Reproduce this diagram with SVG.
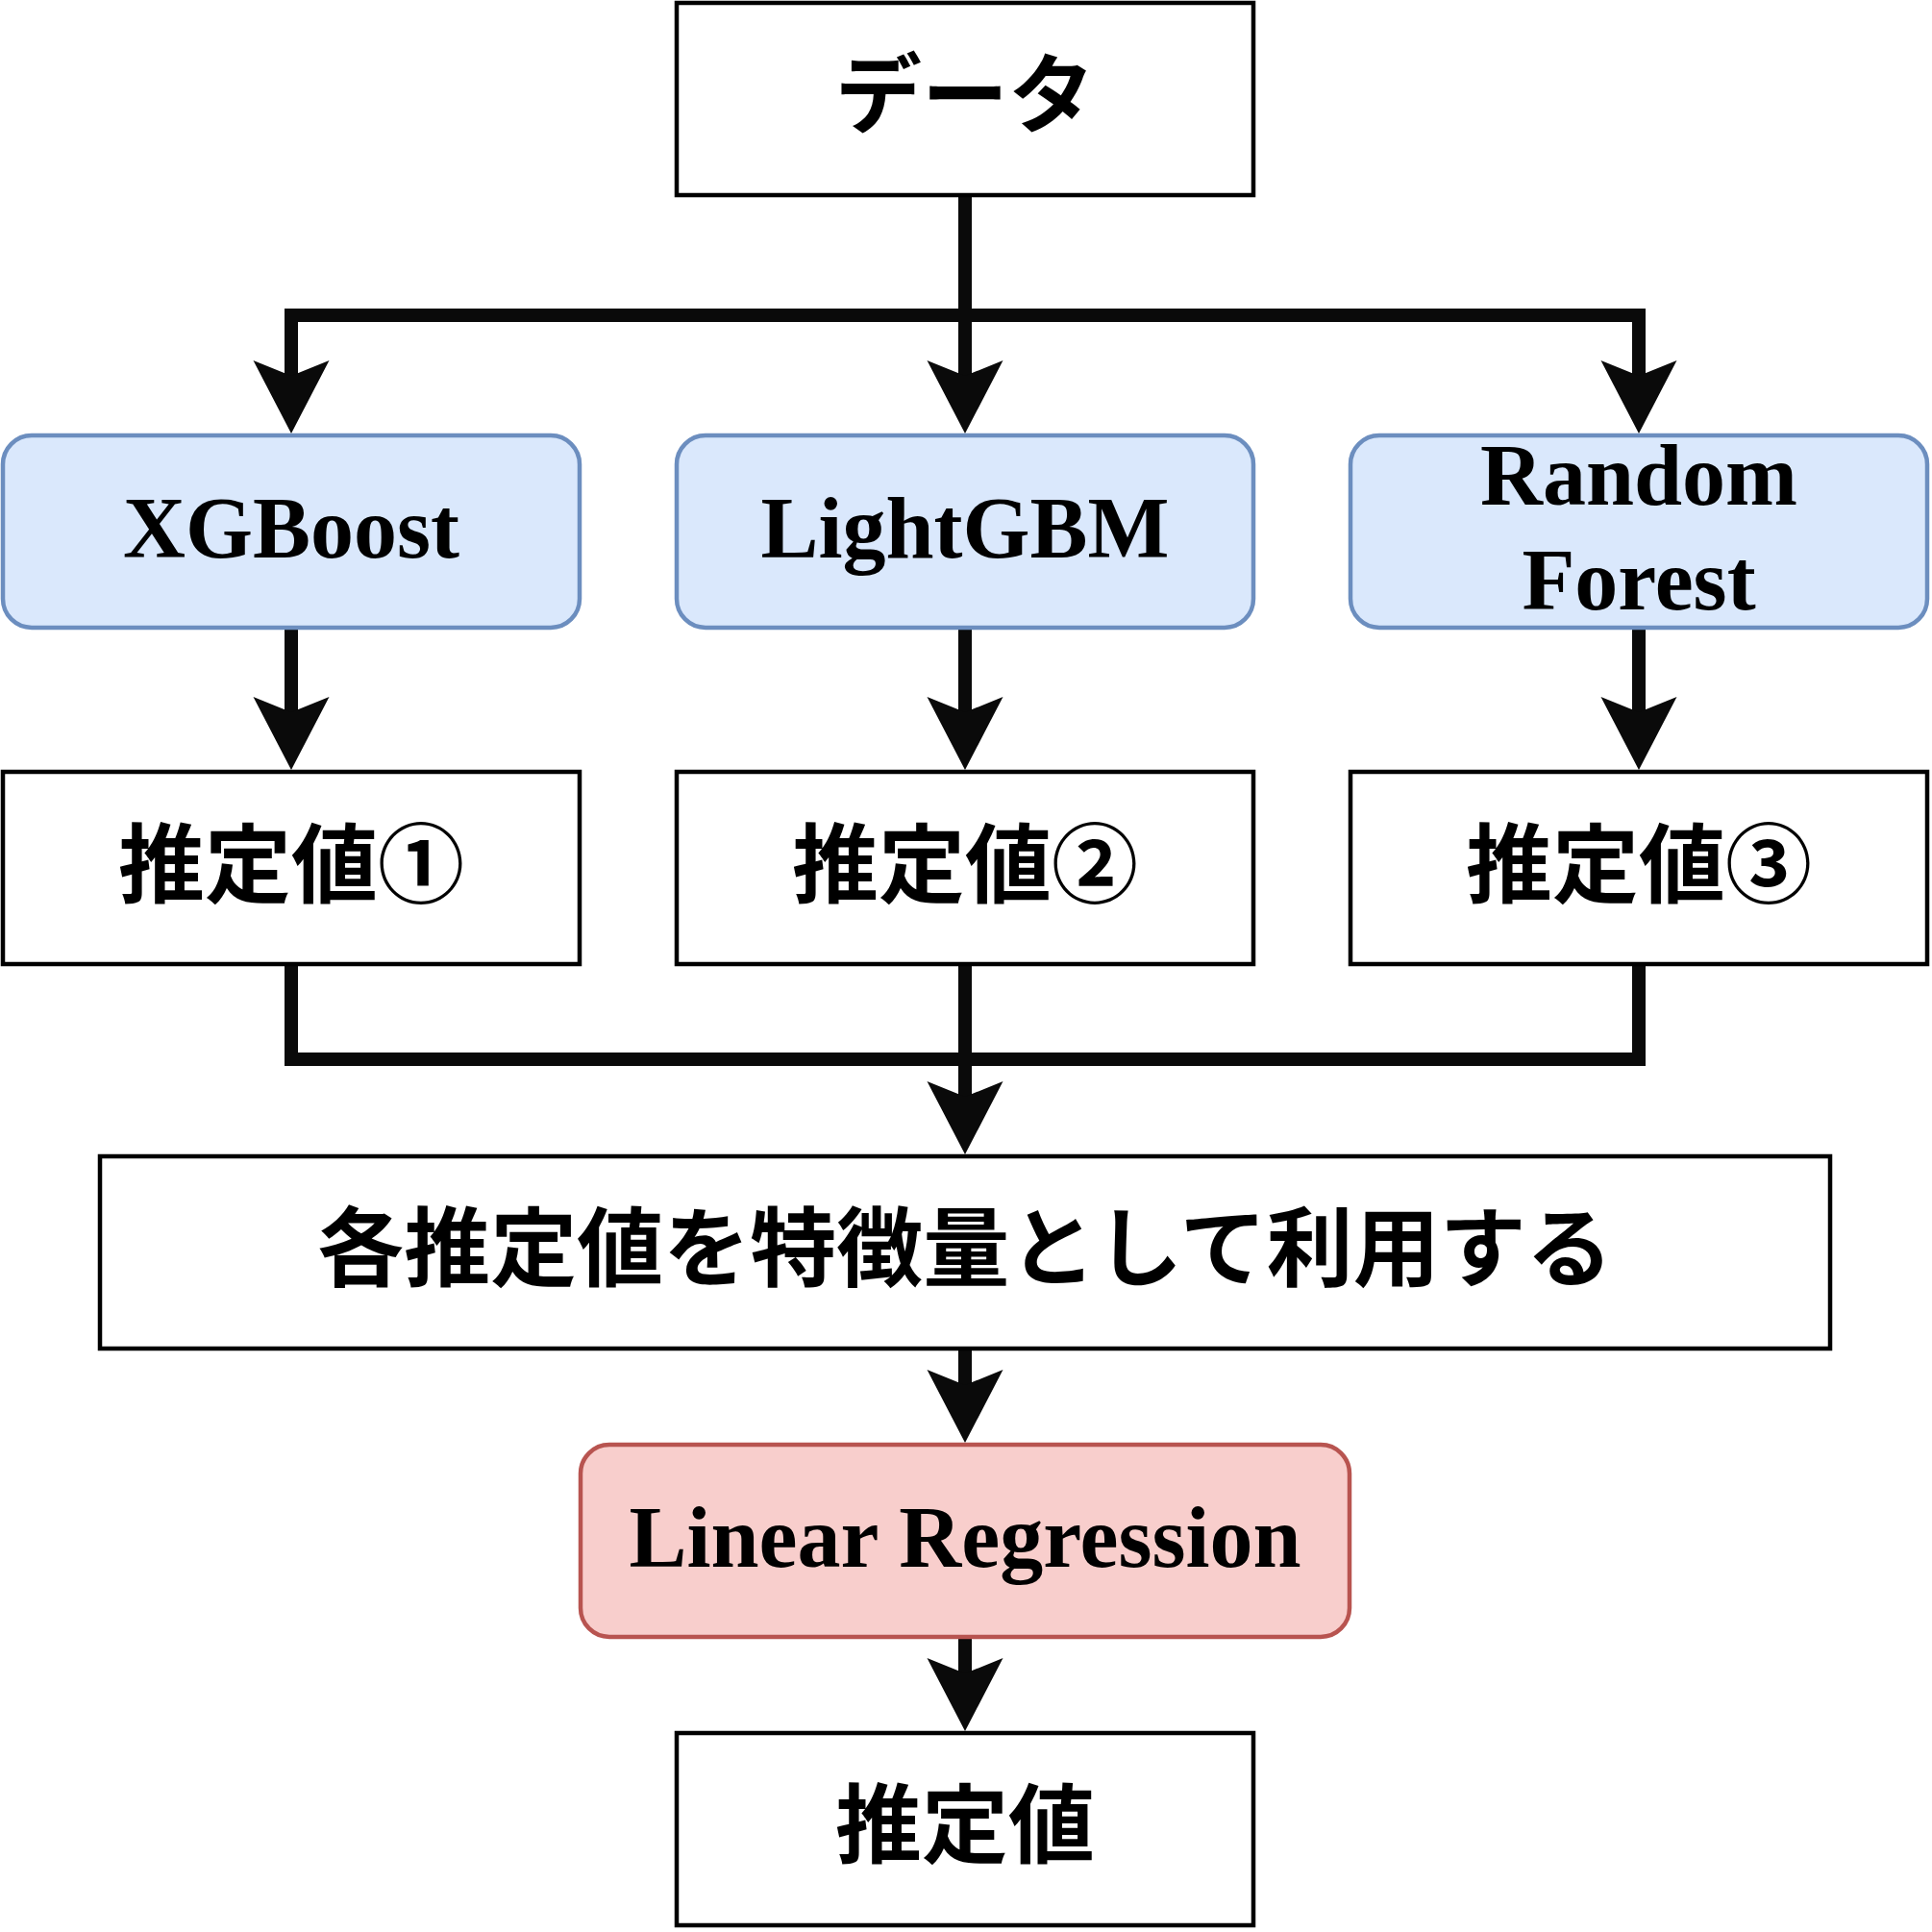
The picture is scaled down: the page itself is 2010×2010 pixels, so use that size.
<svg xmlns="http://www.w3.org/2000/svg" xmlns:xlink="http://www.w3.org/1999/xlink" width="2010" height="2010" viewBox="0 0 2010 2010">
  <style>
    .box { fill: #ffffff; stroke: #000000; stroke-width: 4.5; }
    .blue { fill: #dae8fc; stroke: #6c8ebf; stroke-width: 4.5; }
    .red { fill: #f8cecc; stroke: #b85450; stroke-width: 4.5; }
    .jp { font-family: "Noto Sans CJK JP", "Noto Sans", sans-serif; font-weight: bold; font-size: 90px; text-anchor: middle; fill: #000000; }
    .en { font-family: "Liberation Serif", "Times New Roman", serif; font-weight: bold; font-size: 90px; text-anchor: middle; fill: #000000; }
    .edge { fill: none; stroke: #0a0a0a; stroke-width: 14; stroke-linejoin: miter; stroke-linecap: butt; }
    .head { fill: #0a0a0a; stroke: none; }
  </style>
  <defs>
    <path id="ah" d="M0,0 L-39.5,-76 L0,-60 L39.5,-76 Z"/>
  </defs>
  <rect x="0" y="0" width="2010" height="2010" fill="#ffffff"/>

  <g id="connectors">
    <path class="edge" d="M1004,203 V328"/>
    <path class="edge" d="M303,392 V328 H1705 V392"/>
    <path class="edge" d="M1004,328 V392"/>
    <use xlink:href="#ah" class="head" x="303" y="451"/>
    <use xlink:href="#ah" class="head" x="1004" y="451"/>
    <use xlink:href="#ah" class="head" x="1705" y="451"/>

    <path class="edge" d="M303,653 V742"/>
    <path class="edge" d="M1004,653 V742"/>
    <path class="edge" d="M1705,653 V742"/>
    <use xlink:href="#ah" class="head" x="303" y="801"/>
    <use xlink:href="#ah" class="head" x="1004" y="801"/>
    <use xlink:href="#ah" class="head" x="1705" y="801"/>

    <path class="edge" d="M303,1003 V1102 H1705 V1003"/>
    <path class="edge" d="M1004,1003 V1142"/>
    <use xlink:href="#ah" class="head" x="1004" y="1201"/>

    <path class="edge" d="M1004,1403 V1442"/>
    <use xlink:href="#ah" class="head" x="1004" y="1501"/>

    <path class="edge" d="M1004,1703 V1742"/>
    <use xlink:href="#ah" class="head" x="1004" y="1801"/>
  </g>

  <g id="node-data">
    <rect class="box" x="704" y="3" width="600" height="200"/>
    <text class="jp" x="1004" y="131">データ</text>
  </g>

  <g id="node-xgboost">
    <rect class="blue" x="3" y="453" width="600" height="200" rx="30" ry="30"/>
    <text class="en" x="303" y="580">XGBoost</text>
  </g>
  <g id="node-lightgbm">
    <rect class="blue" x="704" y="453" width="600" height="200" rx="30" ry="30"/>
    <text class="en" x="1004" y="580">LightGBM</text>
  </g>
  <g id="node-rf">
    <rect class="blue" x="1405" y="453" width="600" height="200" rx="30" ry="30"/>
    <text class="en" x="1705" y="525">Random</text>
    <text class="en" x="1705" y="634">Forest</text>
  </g>

  <g id="node-est1">
    <rect class="box" x="3" y="803" width="600" height="200"/>
    <text class="jp" x="303" y="932">推定値①</text>
  </g>
  <g id="node-est2">
    <rect class="box" x="704" y="803" width="600" height="200"/>
    <text class="jp" x="1004" y="932">推定値②</text>
  </g>
  <g id="node-est3">
    <rect class="box" x="1405" y="803" width="600" height="200"/>
    <text class="jp" x="1705" y="932">推定値③</text>
  </g>

  <g id="node-features">
    <rect class="box" x="104" y="1203" width="1800" height="200"/>
    <text class="jp" x="1004" y="1331">各推定値を特徴量として利用する</text>
  </g>

  <g id="node-lr">
    <rect class="red" x="604" y="1503" width="800" height="200" rx="30" ry="30"/>
    <text class="en" x="1004" y="1630">Linear Regression</text>
  </g>

  <g id="node-final">
    <rect class="box" x="704" y="1803" width="600" height="200"/>
    <text class="jp" x="1004" y="1931">推定値</text>
  </g>
</svg>
